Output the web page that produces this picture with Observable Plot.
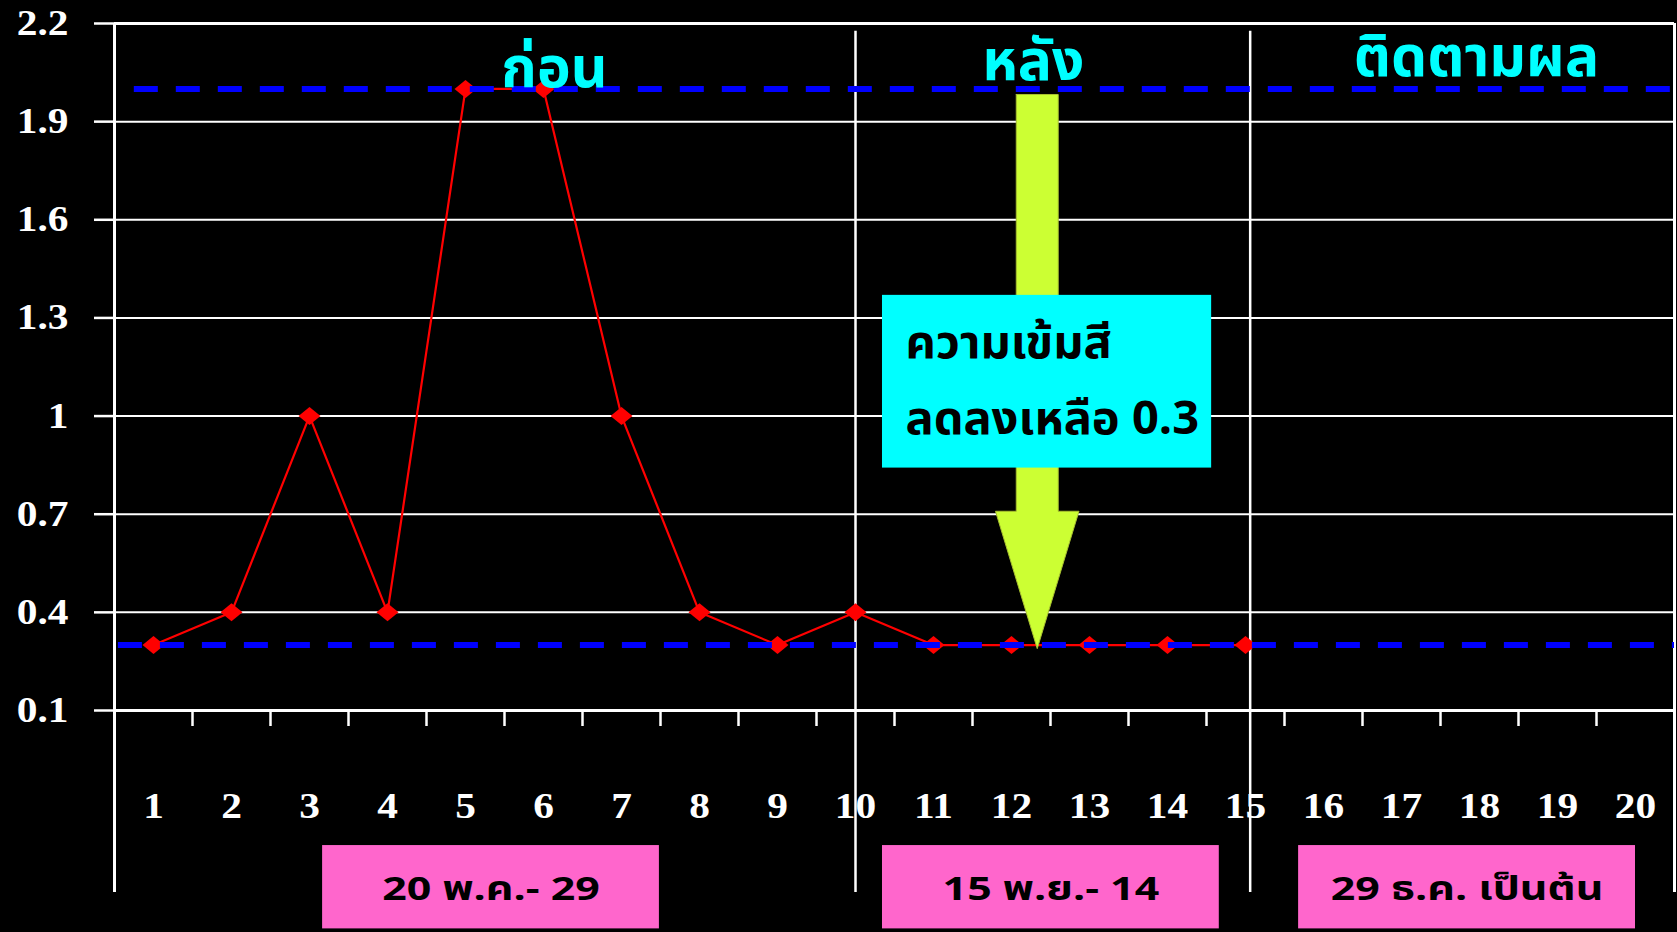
<!DOCTYPE html>
<html>
<head>
<meta charset="utf-8">
<script src="https://cdn.jsdelivr.net/npm/d3@7"></script>
<script src="https://cdn.jsdelivr.net/npm/@observablehq/plot@0.6"></script>
<style>
  html, body { margin: 0; padding: 0; background: #000; }
  #chart svg { display: block; }
</style>
</head>
<body>
<div id="chart"></div>
<script>
// Sample number (x) and measured colour intensity (y)
const days = [1, 2, 3, 4, 5, 6, 7, 8, 9, 10, 11, 12, 13, 14, 15, 16, 17, 18, 19, 20];
const measuredDays = [1, 2, 3, 4, 5, 6, 7, 8, 9, 10, 11, 12, 13, 14, 15];
const intensity = [0.3, 0.4, 1.0, 0.4, 2.0, 2.0, 1.0, 0.4, 0.3, 0.4, 0.3, 0.3, 0.3, 0.3, 0.3];

// Control limits (dashed)
const limits = [2.0, 0.3];

// Y axis ticks
const yTicks = [0.1, 0.4, 0.7, 1, 1.3, 1.6, 1.9, 2.2];
const yTickLabels = ["0.1", "0.4", "0.7", "1", "1.3", "1.6", "1.9", "2.2"];

// Phase headings and date ranges
const phaseTitles = ["ก่อน", "หลัง", "ติดตามผล"];
const periodLabels = ["20 พ.ค.- 29", "15 พ.ย.- 14", "29 ธ.ค. เป็นต้น"];
const noteLines = ["ความเข้มสี", "ลดลงเหลือ 0.3"];

// ---- layout (in scale units) ----
const pxPerY = 327;                      // pixels per 1.0 on the y scale
const below = px => 0.1 - px / pxPerY;   // y value px pixels under the baseline
const phaseBreaks = [10, 15.06];
const titlePos = [{x: 6.14, y: 2.005}, {x: 12.28, y: 2.027}, {x: 17.96, y: 2.039}];
const periodBoxes = [{x1: 3.168, x2: 7.486}, {x1: 10.346, x2: 14.664}, {x1: 15.681, x2: 20.0}];
const periodCenters = periodBoxes.map(b => (b.x1 + b.x2) / 2);
const noteBox = {x1: 10.346, x2: 14.566, y1: 0.841, y2: 1.369};
const noteText = {x: 10.641, y: [1.176, 0.944]};
const arrow = {cx: 12.33, shaftHalf: 0.269, headHalf: 0.535, top: 1.983, headBase: 0.709, tip: 0.289};
const arrowPath = [
  [arrow.cx - arrow.shaftHalf, arrow.top],
  [arrow.cx - arrow.shaftHalf, arrow.headBase],
  [arrow.cx - arrow.headHalf, arrow.headBase],
  [arrow.cx, arrow.tip],
  [arrow.cx + arrow.headHalf, arrow.headBase],
  [arrow.cx + arrow.shaftHalf, arrow.headBase],
  [arrow.cx + arrow.shaftHalf, arrow.top],
  [arrow.cx - arrow.shaftHalf, arrow.top]
];
const boundaries = days.slice(0, -1).map(d => d + 0.5);

const series = measuredDays.map((d, i) => ({day: d, value: intensity[i]}));

// diamond marker, a little wider than tall
const wideDiamond = {
  draw(context) {
    context.moveTo(0, -9);
    context.lineTo(11, 0);
    context.lineTo(0, 9);
    context.lineTo(-11, 0);
    context.closePath();
  }
};

const serif = "'Liberation Serif', 'Times New Roman', serif";
const thai = "'Noto Sans Thai', 'Noto Sans Thai UI', 'Noto Sans', 'Noto Sans Thai Looped', sans-serif";

const chart = Plot.plot({
  width: 1677,
  height: 932,
  marginLeft: 114,
  marginRight: 3,
  marginTop: 23,
  marginBottom: 222,
  x: {domain: [0.5, 20.5], axis: null},
  y: {domain: [0.1, 2.2], axis: null},
  style: {background: "#000", color: "#fff", overflow: "visible"},
  marks: [
    // horizontal grid
    Plot.ruleY(yTicks, {stroke: "#fff", strokeWidth: d => (d === 0.1 || d === 2.2 ? 3 : 2)}),
    Plot.axisY({
      ticks: yTicks,
      tickFormat: d => yTickLabels[yTicks.indexOf(d)],
      tickSize: 20,
      tickPadding: 26,
      color: "#fff",
      strokeWidth: 2.5,
      fontSize: 36,
      fontWeight: "bold",
      fontFamily: serif
    }),
    // frame and phase separators
    Plot.ruleX([0.5, 20.5], {y1: 2.2, y2: below(182), stroke: "#fff", strokeWidth: 3}),
    Plot.ruleX(phaseBreaks, {y1: 2.176, y2: below(182), stroke: "#fff", strokeWidth: 2.5}),
    // x tick marks between samples
    Plot.ruleX(boundaries, {y1: 0.1, y2: below(16), stroke: "#fff", strokeWidth: 2.5}),
    // x labels
    Plot.text(days, {
      x: d => d, y: 0.1, dy: 107, text: d => String(d),
      lineAnchor: "bottom", fill: "#fff", fontSize: 36, fontWeight: "bold", fontFamily: serif
    }),
    // measured series
    Plot.line(series, {x: "day", y: "value", stroke: "#ff0000", strokeWidth: 2.2}),
    Plot.dot(series, {x: "day", y: "value", symbol: wideDiamond, fill: "#ff0000"}),
    // control limits
    Plot.ruleY([limits[0]], {x1: 0.754, x2: 20.5, stroke: "#0000ff", strokeWidth: 6, strokeDasharray: "24,18"}),
    Plot.ruleY([limits[1]], {x1: 0.55, x2: 20.5, stroke: "#0000ff", strokeWidth: 6, strokeDasharray: "24,18"}),
    // phase headings
    Plot.text(phaseTitles, {
      x: (d, i) => titlePos[i].x, y: (d, i) => titlePos[i].y, text: d => d,
      lineAnchor: "bottom", fill: "#00ffff", fontSize: 57, fontWeight: "bold", fontFamily: thai
    }),
    // arrow
    Plot.line(arrowPath, {x: d => d[0], y: d => d[1], fill: "#ccff33", stroke: "#a8c030", strokeWidth: 1}),
    // note box
    Plot.rect([noteBox], {x1: "x1", x2: "x2", y1: "y1", y2: "y2", fill: "#00ffff"}),
    Plot.text(noteLines, {
      x: noteText.x, y: (d, i) => noteText.y[i], text: d => d,
      textAnchor: "start", lineAnchor: "bottom", fill: "#000", fontSize: 47, fontWeight: "bold", fontFamily: thai
    }),
    // date ranges under the axis
    Plot.rect(periodBoxes, {x1: "x1", x2: "x2", y1: below(135), y2: below(218.3), fill: "#ff66cc"}),
    Plot.text(periodLabels, {
      x: (d, i) => periodCenters[i], y: below(189), text: d => d,
      lineAnchor: "bottom", fill: "#000", fontSize: 33, fontWeight: "bold", fontFamily: thai
    })
  ]
});

// widen label glyphs horizontally around their anchor points
function widen(labels, k) {
  d3.select(chart).selectAll("text")
    .filter(function () { return labels.includes(this.textContent); })
    .attr("transform", function () { return (this.getAttribute("transform") || "") + ` scale(${k},1)`; });
}
const serifLabels = Array.from(new Set([...days.map(String), ...yTickLabels]));
widen(serifLabels, 1.15);
widen(periodLabels, 1.3);

document.getElementById("chart").appendChild(chart);
</script>
</body>
</html>
